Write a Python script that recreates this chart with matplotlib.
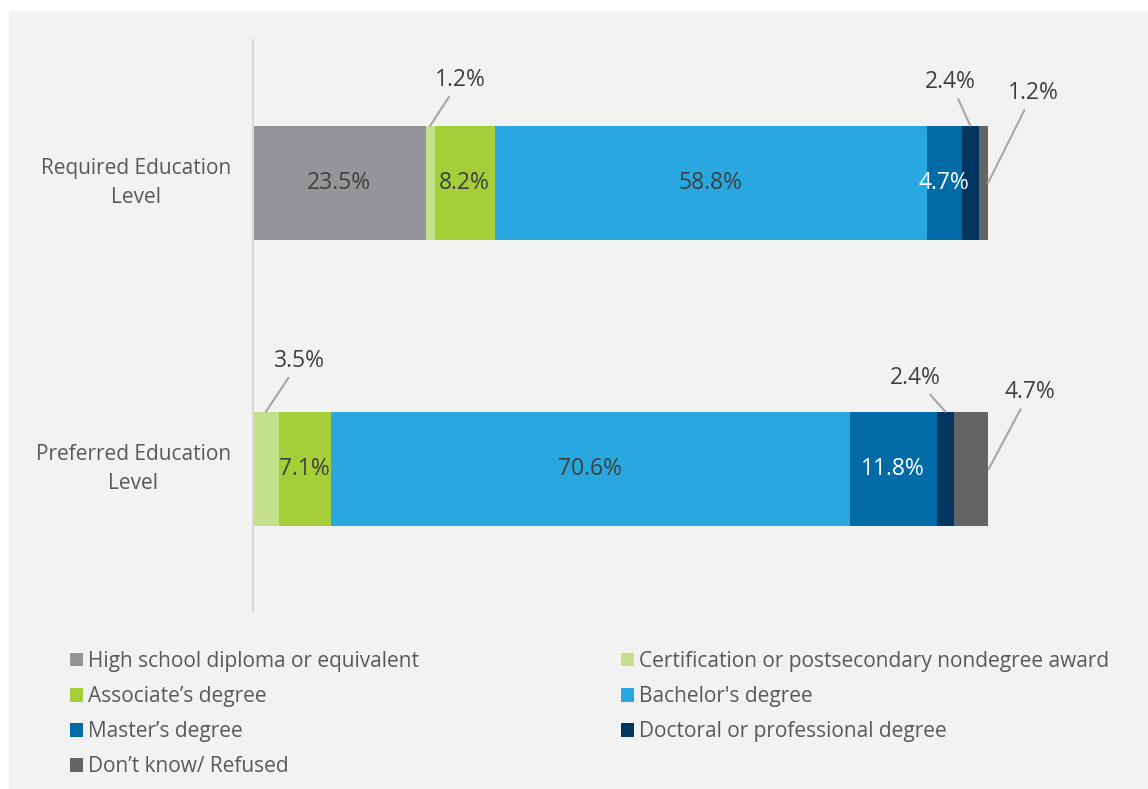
import matplotlib.pyplot as plt
from matplotlib.patches import Rectangle, Patch

plt.rcParams['font.family'] = ['Open Sans', 'DejaVu Sans']

# data
categories = ['Required Education\nLevel', 'Preferred Education\nLevel']
series = ['High school diploma or equivalent',
          'Certification or postsecondary nondegree award',
          'Associate\u2019s degree',
          "Bachelor's degree",
          'Master\u2019s degree',
          'Doctoral or professional degree',
          'Don\u2019t know/ Refused']
required = [23.5, 1.2, 8.2, 58.8, 4.7, 2.4, 1.2]
preferred = [0.0, 3.5, 7.1, 70.6, 11.8, 2.4, 4.7]
colors = ['#939598', '#c5e08d', '#a6ce39', '#29a8e0', '#006ba6', '#003660', '#636466']

# callout labels: (row, series index) -> (anchor, dx px, dy px)
callouts = {
    (0, 1): ('top', 30, 46),
    (0, 5): ('top', -20, 44),
    (0, 6): ('right', 45, 90),
    (1, 1): ('top', 34, 51),
    (1, 5): ('top', -30, 34),
    (1, 6): ('right', 41, 77),
}

fig = plt.figure(figsize=(11.48, 7.89), dpi=100, facecolor='white')
fig.add_artist(Rectangle((9 / 1148, 0), 1 - 9 / 1148, 1 - 11 / 789,
                         transform=fig.transFigure, facecolor='#f2f2f2',
                         edgecolor='none', zorder=0))

ax = fig.add_axes([253 / 1148, 177 / 789, 735 / 1148, 572 / 789])
ax.set_facecolor('none')

ypos = [1, 0]
bar_h = 0.4
for row, (y, vals) in enumerate(zip(ypos, [required, preferred])):
    left = 0
    for i, v in enumerate(vals):
        if v > 0:
            ax.barh(y, v, left=left, height=bar_h, color=colors[i], edgecolor='none')
            txt = f'{v:.1f}%'
            if (row, i) in callouts:
                where, dx, dy = callouts[(row, i)]
                if where == 'top':
                    xy = (left + v / 2, y + bar_h / 2)
                else:
                    xy = (left + v, y)
                ax.annotate(txt, xy=xy, xytext=(dx, dy), textcoords='offset pixels',
                            ha='center', va='center', fontsize=16.5, color='#404040',
                            annotation_clip=False,
                            arrowprops=dict(arrowstyle='-', color='#a6a6a6', lw=1.5,
                                            shrinkA=2, shrinkB=0))
            else:
                tc = 'white' if i == 4 else '#404040'
                ax.text(left + v / 2, y, txt, ha='center', va='center',
                        fontsize=16.5, color=tc)
        left += v

ax.set_xlim(0, 100)
ax.set_ylim(-0.5, 1.5)
ax.set_xticks([])
ax.set_yticks(ypos)
ax.set_yticklabels(categories, fontsize=15, color='#595959')
for lbl in ax.get_yticklabels():
    lbl.set_multialignment('center')
    lbl.set_linespacing(1.45)
    lbl.set_verticalalignment('center')
ax.tick_params(axis='y', length=0, pad=16)
for s in ['top', 'right', 'bottom']:
    ax.spines[s].set_visible(False)
ax.spines['left'].set_color('#d9d9d9')
ax.spines['left'].set_linewidth(1.5)

order = [0, 2, 4, 6, 1, 3, 5]
handles = [Patch(facecolor=colors[i], edgecolor='none') for i in order]
labels = [series[i] for i in order]
fig.legend(handles, labels, loc='upper left', bbox_to_anchor=(70 / 1148, 1 - 651 / 789),
           ncol=2, frameon=False, fontsize=15, labelcolor='#595959',
           handlelength=0.62, handleheight=0.62, handletextpad=0.25,
           columnspacing=9.7, labelspacing=0.68, borderpad=0, borderaxespad=0)

fig.savefig('out.png', dpi=100, facecolor='white')
